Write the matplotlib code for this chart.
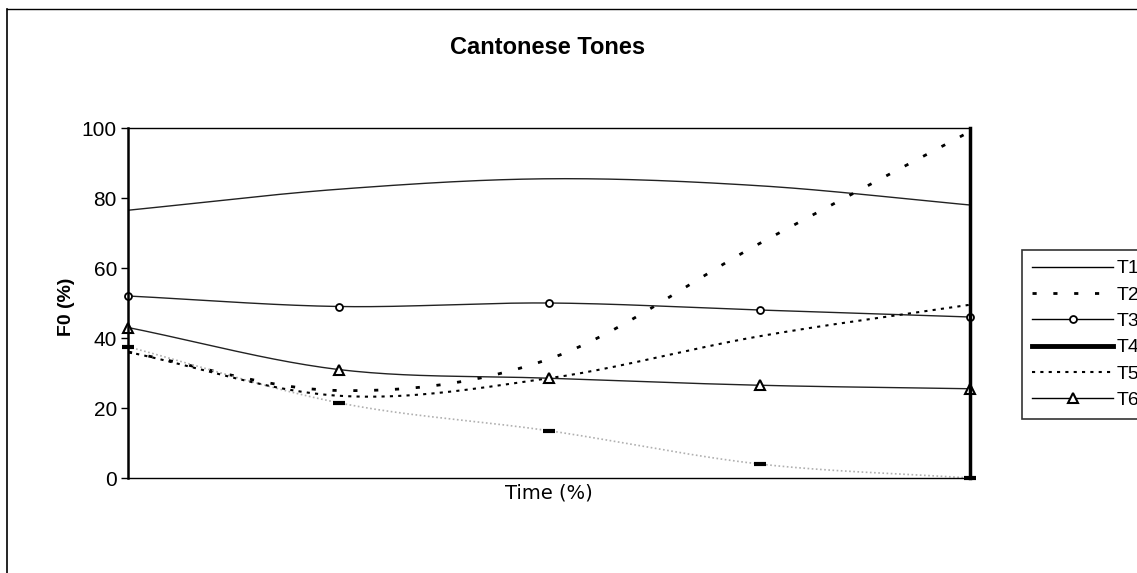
import numpy as np
import matplotlib
matplotlib.use("Agg")
import matplotlib.pyplot as plt
from matplotlib.lines import Line2D

plt.rcParams['font.family'] = ['Liberation Sans', 'DejaVu Sans']

time_pts = [0, 25, 50, 75, 100]
series_names = ["T1", "T2", "T3", "T4", "T5", "T6"]
t1 = [76.5, 82.5, 85.5, 83.5, 78]
t2 = [36, 25, 34, 67, 99]
t3 = [52, 49, 50, 48, 46]
t4 = [37.5, 21.5, 13.5, 4, 0]
t5 = [36, 23.5, 28.5, 40.5, 49.5]
t6 = [43, 31, 28.5, 26.5, 25.5]
y_ticks = [0, 20, 40, 60, 80, 100]


def smooth(x, y, n=40):
    """Bezier smoothing similar to a spreadsheet 'smoothed line'."""
    x = np.asarray(x, float)
    y = np.asarray(y, float)
    px = np.concatenate([[2 * x[0] - x[1]], x, [2 * x[-1] - x[-2]]])
    py = np.concatenate([[2 * y[0] - y[1]], y, [2 * y[-1] - y[-2]]])
    xs, ys = [], []
    for i in range(1, len(px) - 2):
        t = np.linspace(0, 1, n)
        p0x, p1x, p2x, p3x = px[i - 1:i + 3]
        p0y, p1y, p2y, p3y = py[i - 1:i + 3]
        c1x = p1x + (p2x - p0x) / 6
        c1y = p1y + (p2y - p0y) / 6
        c2x = p2x - (p3x - p1x) / 6
        c2y = p2y - (p3y - p1y) / 6
        bx = (1 - t) ** 3 * p1x + 3 * (1 - t) ** 2 * t * c1x + 3 * (1 - t) * t ** 2 * c2x + t ** 3 * p2x
        by = (1 - t) ** 3 * p1y + 3 * (1 - t) ** 2 * t * c1y + 3 * (1 - t) * t ** 2 * c2y + t ** 3 * p2y
        xs.append(bx if i == 1 else bx[1:])
        ys.append(by if i == 1 else by[1:])
    return np.concatenate(xs), np.concatenate(ys)


fig = plt.figure(figsize=(11.37, 5.73), dpi=100)
W, H = 1137, 573
ax = fig.add_axes([128 / W, 1 - 478 / H, (970 - 128) / W, (478 - 128) / H])

# outer chart frame (partially cut off)
fig.add_artist(Line2D([7 / W, 7 / W], [0, 1 - 9 / H], color='black', lw=1.2, transform=fig.transFigure))
fig.add_artist(Line2D([7 / W, 1], [1 - 9 / H, 1 - 9 / H], color='black', lw=1.0, transform=fig.transFigure))

T2_STYLE = (0, (1.5, 6))
T5_STYLE = (0, (1.5, 2.5))

# T1 plain line
sx, sy = smooth(time_pts, t1)
ax.plot(sx, sy, color='#222222', lw=1.0)
# T2 sparse dashes
sx, sy = smooth(time_pts, t2)
ax.plot(sx, sy, color='black', lw=2.0, linestyle=T2_STYLE)
# T3 line with circles
sx, sy = smooth(time_pts, t3)
ax.plot(sx, sy, color='#222222', lw=1.0)
ax.plot(time_pts, t3, linestyle='none', marker='o', ms=5, mfc='white', mec='black', mew=1.3, clip_on=False)
# T4 faint line with dash markers
sx, sy = smooth(time_pts, t4)
ax.plot(sx, sy, color='#b0b0b0', lw=1.2, linestyle=(0, (1, 1.5)))
ax.plot(time_pts, t4, linestyle='none', marker='_', ms=9, mec='black', mew=3, clip_on=False)
# T5 dotted
sx, sy = smooth(time_pts, t5)
ax.plot(sx, sy, color='black', lw=1.5, linestyle=T5_STYLE)
# T6 line with triangles
sx, sy = smooth(time_pts, t6)
ax.plot(sx, sy, color='#222222', lw=1.0)
ax.plot(time_pts, t6, linestyle='none', marker='^', ms=7, mfc='white', mec='black', mew=1.5, clip_on=False)

ax.set_xlim(time_pts[0], time_pts[-1])
ax.set_ylim(y_ticks[0], y_ticks[-1])
ax.set_yticks(y_ticks)
ax.set_yticklabels([str(v) for v in y_ticks], fontsize=15)
ax.set_xticks([])
ax.tick_params(axis='y', direction='out', length=5, width=1, pad=3)
for s in ['bottom', 'top']:
    ax.spines[s].set_linewidth(1.0)
ax.spines['right'].set_linewidth(2.5)
ax.spines['left'].set_linewidth(1.8)

ax.set_ylabel("F0 (%)", fontsize=14, fontweight='bold')
ax.yaxis.set_label_coords((75 - 128) / 842, 0.49)
ax.set_xlabel("Time (%)", fontsize=14, family=['DejaVu Sans'], labelpad=4)
fig.text(548 / W, 1 - 48 / H, "Cantonese Tones", ha='center', va='center', fontsize=17, fontweight='bold')

# legend
handles = [
    Line2D([], [], color='black', lw=1.0),
    Line2D([], [], color='black', lw=2.0, linestyle=T2_STYLE),
    Line2D([], [], color='black', lw=1.0, marker='o', ms=5, mfc='white', mec='black', mew=1.3),
    Line2D([], [], color='black', lw=3.5),
    Line2D([], [], color='black', lw=1.5, linestyle=T5_STYLE),
    Line2D([], [], color='black', lw=1.0, marker='^', ms=7, mfc='white', mec='black', mew=1.5),
]
leg = fig.legend(handles, series_names, loc='upper left', bbox_to_anchor=(1022 / W, 1 - 250 / H),
                 fontsize=14, frameon=True, fancybox=False, edgecolor='black', handlelength=4.2,
                 handletextpad=0.15, labelspacing=0.45, borderpad=0.5, borderaxespad=0)
leg.get_frame().set_linewidth(1.2)

fig.savefig("out.png", dpi=100)
